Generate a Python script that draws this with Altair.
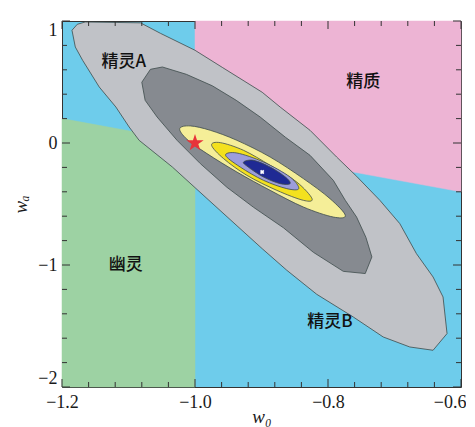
import altair as alt
import pandas as pd

# ---------------- data ----------------
# theoretical regions
pink_w0 = [-1.0, -1.0, -0.6, -0.6]
pink_wa = [1.0, 0.0, -0.4, 1.0]
green_w0 = [-1.2, -1.2, -1.0, -1.0]
green_wa = [-2.0, 0.2, 0.0, -2.0]

# outer (light gray) confidence contour
outer_w0 = [-1.185, -1.177, -1.165, -1.082, -1.052, -1.000, -0.959, -0.899, -0.872, -0.827,
            -0.787, -0.757, -0.722, -0.692, -0.667, -0.642, -0.627, -0.621, -0.642, -0.677,
            -0.717, -0.762, -0.817, -0.862, -0.899, -0.979, -1.034, -1.084, -1.099, -1.119,
            -1.144, -1.169, -1.180]
outer_wa = [0.924, 0.973, 0.992, 0.985, 0.899, 0.760, 0.620, 0.416, 0.295, 0.104,
            -0.115, -0.273, -0.470, -0.661, -0.907, -1.098, -1.262, -1.562, -1.699, -1.672,
            -1.590, -1.426, -1.240, -1.043, -0.866, -0.470, -0.197, 0.022, 0.131, 0.295,
            0.459, 0.678, 0.787]

# inner (dark gray) contour
dark_w0 = [-1.080, -1.067, -1.049, -1.013, -0.974, -0.938, -0.902, -0.864, -0.827, -0.792,
           -0.774, -0.757, -0.743, -0.734, -0.744, -0.777, -0.822, -0.867, -0.912, -0.952,
           -0.992, -1.027, -1.057, -1.075]
dark_wa = [0.498, 0.604, 0.623, 0.563, 0.469, 0.350, 0.213, 0.047, -0.101, -0.306,
           -0.470, -0.607, -0.773, -0.934, -1.070, -1.052, -0.896, -0.695, -0.527, -0.363,
           -0.169, 0.022, 0.213, 0.350]

# pale yellow contour
pale_w0 = [-1.023, -1.007, -0.977, -0.937, -0.887, -0.837, -0.797, -0.774, -0.792, -0.837,
           -0.887, -0.937, -0.982, -1.012]
pale_wa = [0.118, 0.140, 0.104, 0.022, -0.115, -0.292, -0.456, -0.593, -0.607, -0.525,
           -0.388, -0.238, -0.087, 0.030]

# bright yellow contour
yel_w0 = [-0.975, -0.962, -0.927, -0.887, -0.847, -0.824, -0.837, -0.877, -0.922, -0.957]
yel_wa = [-0.019, 0.003, -0.060, -0.183, -0.320, -0.456, -0.470, -0.388, -0.265, -0.128]

# lavender contour
lav_w0 = [-0.954, -0.937, -0.897, -0.857, -0.844, -0.862, -0.897, -0.932]
lav_wa = [-0.101, -0.082, -0.156, -0.279, -0.374, -0.374, -0.306, -0.197]

# dark blue contour
navy_w0 = [-0.927, -0.912, -0.887, -0.864, -0.857, -0.872, -0.897, -0.920]
navy_wa = [-0.156, -0.142, -0.197, -0.279, -0.333, -0.333, -0.279, -0.197]

# markers
star_w0, star_wa = [-1.0], [0.0]
best_w0, best_wa = [-0.899], [-0.238]

# region labels
label_text = ["精灵A", "精质", "幽灵", "精灵B"]
label_w0 = [-1.107, -0.747, -1.104, -0.797]
label_wa = [0.664, 0.50, -1.002, -1.467]

# tick positions
x_major = [-1.2, -1.0, -0.8, -0.6]
x_minor = [-1.16, -1.12, -1.08, -1.04, -0.96, -0.92, -0.88, -0.84,
           -0.76, -0.72, -0.68, -0.64]
y_major = [-2, -1, 0, 1]
y_minor = [-1.8, -1.6, -1.4, -1.2, -0.8, -0.6, -0.4, -0.2, 0.2, 0.4, 0.6, 0.8]

# ---------------- chart ----------------
W, H = 399, 366
SERIF = "Liberation Serif, Times New Roman, DejaVu Serif, serif"
xscale = alt.Scale(domain=[-1.2, -0.6], nice=False, zero=False)
yscale = alt.Scale(domain=[-2, 1], nice=False, zero=False)
xaxis = alt.Axis(values=x_major, format=".1f", title="w₀", ticks=False, domain=False,
                 grid=False, labelPadding=6, titlePadding=-4, labelFlush=False,
                 labelOverlap=False,
                 labelAlign={"condition": {"test": "datum.value > -0.65", "value": "right"},
                             "value": "center"},
                 labelOffset={"condition": {"test": "datum.value > -0.65", "value": 5},
                              "value": 0})
yaxis = alt.Axis(values=y_major, format="d", title="wₐ", ticks=False, domain=False,
                 grid=False, labelPadding=5, titlePadding=7, labelFlush=True,
                 labelOverlap=False)


def X(field):
    return alt.X(f"{field}:Q", scale=xscale, axis=xaxis)


def Y(field):
    return alt.Y(f"{field}:Q", scale=yscale, axis=yaxis)


def poly(xs, ys, fill, stroke=None, sw=0.8, smooth=False):
    if smooth:
        df = pd.DataFrame({"w0": xs, "wa": ys, "i": list(range(len(xs)))})
        interp = "cardinal-closed"
    else:
        df = pd.DataFrame({"w0": xs + [xs[0]], "wa": ys + [ys[0]],
                           "i": list(range(len(xs) + 1))})
        interp = "linear"
    kw = dict(fill=fill, interpolate=interp, strokeJoin="round")
    if stroke:
        kw.update(stroke=stroke, strokeWidth=sw)
    else:
        kw.update(stroke=fill, strokeWidth=0.5)
    return alt.Chart(df).mark_line(**kw).encode(x=X("w0"), y=Y("wa"), order="i:Q")


EDGE = "#3d4b4b"
layers = [
    poly(pink_w0, pink_wa, "#EDB4D4"),
    poly(green_w0, green_wa, "#9DD2A3"),
    poly(outer_w0, outer_wa, "#C0C2C7", EDGE),
    poly(dark_w0, dark_wa, "#868A90", EDGE),
    poly(pale_w0, pale_wa, "#F5EE98", EDGE, smooth=True),
    poly(yel_w0, yel_wa, "#F3E11E", EDGE, smooth=True),
    poly(lav_w0, lav_wa, "#9C9DDB", EDGE, smooth=True),
    poly(navy_w0, navy_wa, "#1F2A94", EDGE, smooth=True),
]

star_path = ("M0,-1L0.2245,-0.309L0.951,-0.309L0.363,0.118L0.588,0.809L0,0.382"
             "L-0.588,0.809L-0.363,0.118L-0.951,-0.309L-0.2245,-0.309Z")
layers.append(
    alt.Chart(pd.DataFrame({"w0": star_w0, "wa": star_wa}))
    .mark_point(shape=star_path, filled=True, color="#E8333A", size=330, opacity=1)
    .encode(x=X("w0"), y=Y("wa"))
)
layers.append(
    alt.Chart(pd.DataFrame({"w0": best_w0, "wa": best_wa}))
    .mark_point(shape="cross", angle=45, filled=True, color="white", size=20, opacity=1)
    .encode(x=X("w0"), y=Y("wa"))
)
layers.append(
    alt.Chart(pd.DataFrame({"w0": label_w0, "wa": label_wa, "t": label_text}))
    .mark_text(font="Noto Sans CJK SC", fontSize=17, fontWeight=500, color="#111111")
    .encode(x=X("w0"), y=Y("wa"), text="t:N")
)

TICK = "#333333"
# x ticks (bottom and top)
for vals, L in ((x_major, 8), (x_minor, 5)):
    d = pd.DataFrame({"t": vals})
    layers.append(alt.Chart(d).mark_rule(color=TICK, strokeWidth=1)
                  .encode(x=X("t"), y=alt.value(H), y2=alt.value(H - L)))
    layers.append(alt.Chart(d).mark_rule(color=TICK, strokeWidth=1)
                  .encode(x=X("t"), y=alt.value(0), y2=alt.value(L)))
# y ticks (left and right)
for vals, L in ((y_major, 8), (y_minor, 5)):
    d = pd.DataFrame({"t": vals})
    layers.append(alt.Chart(d).mark_rule(color=TICK, strokeWidth=1)
                  .encode(y=Y("t"), x=alt.value(0), x2=alt.value(L)))
    layers.append(alt.Chart(d).mark_rule(color=TICK, strokeWidth=1)
                  .encode(y=Y("t"), x=alt.value(W), x2=alt.value(W - L)))

chart = (
    alt.layer(*layers)
    .properties(width=W, height=H, autosize=alt.AutoSizeParams(type="none"),
                padding={"left": 54, "top": 13, "right": 5, "bottom": 40},
                background="white")
    .configure_view(fill="#6ECCEB", stroke="#333333", strokeWidth=1)
    .configure_axis(labelFont=SERIF, labelFontSize=18, labelColor="#1a1a1a",
                    titleFont=SERIF, titleFontSize=19, titleFontStyle="italic",
                    titleFontWeight="normal", titleColor="#1a1a1a")
)

chart.save("out.html", embed_options={"renderer": "svg", "actions": False})
